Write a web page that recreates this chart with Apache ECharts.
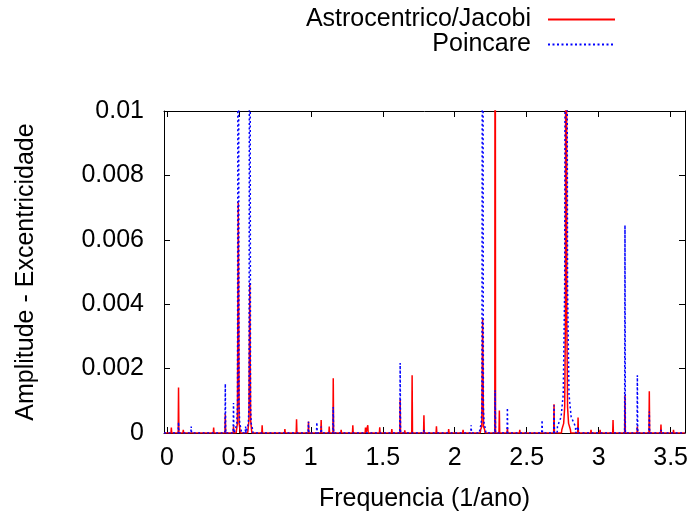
<!DOCTYPE html>
<html>
<head>
<meta charset="utf-8">
<script src="https://cdn.jsdelivr.net/npm/echarts@6/dist/echarts.min.js"></script>
<style>
  html, body { margin: 0; padding: 0; background: #fff; }
  #chart { width: 696px; height: 512px; }
</style>
</head>
<body>
<div id="chart"></div>
<script>
// Frequency spectrum of the eccentricity: two coordinate systems compared.

const freqTicks = [0, 0.5, 1, 1.5, 2, 2.5, 3, 3.5];
const ampTicks = [0, 0.002, 0.004, 0.006, 0.008, 0.01];

// Astrocentrico/Jacobi: isolated lines (frequency in 1/ano, amplitude)
const astroFreq = [0.031, 0.081, 0.114, 0.325, 0.406, 0.463, 0.662, 0.820, 0.901, 0.984,
  1.072, 1.128, 1.156, 1.211, 1.292, 1.380, 1.396, 1.479, 1.563, 1.621,
  1.653, 1.704, 1.786, 1.873, 1.958, 2.058, 2.281, 2.310, 2.366, 2.452,
  2.690, 2.857, 2.947, 3.010, 3.100, 3.183, 3.269, 3.352, 3.433, 3.520];
const astroAmp = [0.00017, 0.00141, 0.0001, 0.00017, 0.00058, 0.0002, 0.00024, 0.00012, 0.00043, 0.00036,
  0.0004, 0.0002, 0.0017, 0.0001, 0.00024, 0.00017, 0.00024, 0.00018, 0.00012, 0.00104,
  0.00008, 0.00179, 0.00055, 0.00021, 0.00012, 0.0001, 0.025, 0.0007, 0.00015, 0.0001,
  0.00089, 0.00048, 0.0001, 0.0001, 0.0004, 0.00117, 0.0002, 0.0013, 0.00026, 0.0001];

// Astrocentrico/Jacobi: broadened lines, sampled across their profile
const astroProfileFreq = [0.484, 0.490, 0.496, 0.502, 0.508,
  0.564, 0.570, 0.576, 0.582, 0.588,
  2.180, 2.188, 2.194, 2.200, 2.208,
  2.744, 2.757, 2.764, 2.769, 2.774, 2.779, 2.784, 2.791, 2.804];
const astroProfileAmp = [0.0001, 0.0003, 0.00716, 0.0003, 0.0001,
  0.0001, 0.0004, 0.00466, 0.0004, 0.0001,
  0.0001, 0.0002, 0.00353, 0.0002, 0.0001,
  0.0001, 0.0003, 0.0008, 0.0035, 0.025, 0.0035, 0.0008, 0.0003, 0.0001];

// Poincare: isolated lines
const poincFreq = [0.081, 0.169, 0.406, 0.463, 0.547, 0.984, 1.042, 1.072, 1.156, 1.621,
  1.786, 2.114, 2.281, 2.366, 2.607, 2.690, 2.857, 3.183, 3.269, 3.352, 3.433];
const poincAmp = [0.00034, 0.0002, 0.00153, 0.00093, 0.0002, 0.00035, 0.00033, 0.0002, 0.00081, 0.00217,
  0.0001, 0.00024, 0.00133, 0.00078, 0.0004, 0.00086, 0.0002, 0.00645, 0.00179, 0.00067, 0.0001];

// Poincare: broadened lines
const poincProfileFreq = [0.476, 0.486, 0.491, 0.496, 0.501, 0.506, 0.516,
  0.556, 0.566, 0.571, 0.576, 0.581, 0.586, 0.596,
  2.174, 2.184, 2.189, 2.194, 2.199, 2.204, 2.214,
  2.714, 2.739, 2.754, 2.764, 2.769, 2.774, 2.779, 2.784, 2.794, 2.809, 2.839];
const poincProfileAmp = [0.0001, 0.0003, 0.0009, 0.025, 0.0009, 0.0003, 0.0001,
  0.0001, 0.0003, 0.0009, 0.025, 0.0009, 0.0003, 0.0001,
  0.0001, 0.0003, 0.0008, 0.025, 0.0008, 0.0003, 0.0001,
  0.0002, 0.0005, 0.0012, 0.0045, 0.017, 0.025, 0.017, 0.0045, 0.0012, 0.0005, 0.0002];

const X_MIN = -0.02, X_MAX = 3.6;
const HALF_WIDTH = 0.0025;   // half base width of a sharp line
const PROFILE_GAP = 0.05;    // profile samples closer than this are joined

// Merge sharp lines and profile samples into one polyline along the baseline
function buildSpectrum(freqs, amps, profFreqs, profAmps) {
  const pts = freqs.map((f, i) => ({ f: f, a: amps[i], sharp: true }))
    .concat(profFreqs.map((f, i) => ({ f: f, a: profAmps[i], sharp: false })));
  pts.sort((p, q) => p.f - q.f);
  const out = [[X_MIN, 0]];
  pts.forEach((p, i) => {
    const prev = pts[i - 1], next = pts[i + 1];
    const joinPrev = prev && !prev.sharp && !p.sharp && p.f - prev.f < PROFILE_GAP;
    const joinNext = next && !next.sharp && !p.sharp && next.f - p.f < PROFILE_GAP;
    if (!joinPrev) out.push([p.f - HALF_WIDTH, 0]);
    out.push([p.f, p.a]);
    if (!joinNext) out.push([p.f + HALF_WIDTH, 0]);
  });
  out.push([X_MAX, 0]);
  return out;
}

const FONT = 'Liberation Sans, Arial, sans-serif';
const FS = 25;
const black = '#000000';

const chart = echarts.init(document.getElementById('chart'), null, { renderer: 'canvas' });

const tickStyle = { color: black, width: 1 };
const textStyle = { fontFamily: FONT, fontSize: FS, color: black };

// key entries: line sample only, text to its left
function keyEntry(name, top) {
  return {
    data: [name],
    right: 80, top: top, padding: 0, align: 'right',
    itemWidth: 67, itemHeight: 14,
    itemStyle: { opacity: 0 },
    textStyle: Object.assign({ padding: [0, 12, 0, 0] }, textStyle)
  };
}

chart.setOption({
  animation: false,
  backgroundColor: '#ffffff',
  grid: { left: 164, right: 11, top: 111, bottom: 79, outerBoundsMode: 'none' },
  legend: [keyEntry('Astrocentrico/Jacobi', 7), keyEntry('Poincare', 32)],
  xAxis: [
    {
      type: 'value', min: X_MIN, max: X_MAX, position: 'bottom',
      name: 'Frequencia (1/ano)', nameLocation: 'middle', nameGap: 54,
      nameTextStyle: textStyle,
      axisLine: { show: true, onZero: false, lineStyle: tickStyle },
      axisTick: { show: true, inside: true, length: 6, customValues: freqTicks, lineStyle: tickStyle },
      axisLabel: { customValues: freqTicks, margin: 13, formatter: v => String(v), ...textStyle },
      splitLine: { show: false }
    },
    {
      type: 'value', min: X_MIN, max: X_MAX, position: 'top',
      axisLine: { show: true, onZero: false, lineStyle: tickStyle },
      axisTick: { show: true, inside: true, length: 6, customValues: freqTicks, lineStyle: tickStyle },
      axisLabel: { show: false },
      splitLine: { show: false }
    }
  ],
  yAxis: [
    {
      type: 'value', min: 0, max: 0.01, position: 'left',
      name: 'Amplitude - Excentricidade', nameLocation: 'middle', nameGap: 125,
      nameTextStyle: textStyle,
      axisLine: { show: true, onZero: false, lineStyle: tickStyle },
      axisTick: { show: true, inside: true, length: 6, customValues: ampTicks, lineStyle: tickStyle },
      axisLabel: { customValues: ampTicks, margin: 20, formatter: v => String(+v.toFixed(3)), ...textStyle },
      splitLine: { show: false }
    },
    {
      type: 'value', min: 0, max: 0.01, position: 'right',
      axisLine: { show: true, onZero: false, lineStyle: tickStyle },
      axisTick: { show: true, inside: true, length: 6, customValues: ampTicks, lineStyle: tickStyle },
      axisLabel: { show: false },
      splitLine: { show: false }
    }
  ],
  series: [
    {
      name: 'Astrocentrico/Jacobi', type: 'line',
      xAxisIndex: 0, yAxisIndex: 0,
      data: buildSpectrum(astroFreq, astroAmp, astroProfileFreq, astroProfileAmp),
      symbol: 'none', clip: true,
      lineStyle: { color: '#ff0000', width: 1.5, type: 'solid' },
      itemStyle: { color: '#ff0000' }
    },
    {
      name: 'Poincare', type: 'line',
      xAxisIndex: 0, yAxisIndex: 0,
      data: buildSpectrum(poincFreq, poincAmp, poincProfileFreq, poincProfileAmp),
      symbol: 'none', clip: true,
      lineStyle: { color: '#0000ff', width: 1.5, type: [2, 2.5] },
      itemStyle: { color: '#0000ff' }
    }
  ]
});
</script>
</body>
</html>
